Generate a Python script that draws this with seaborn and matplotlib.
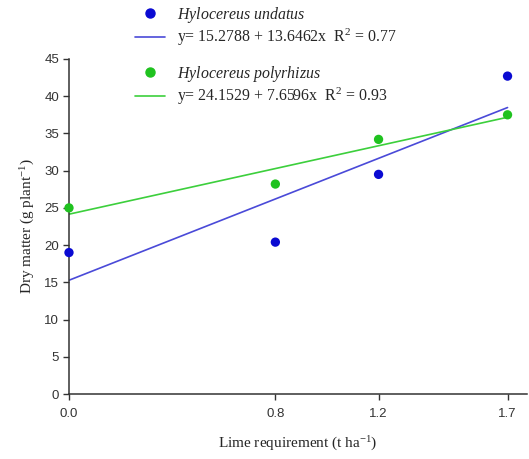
import numpy as np
import pandas as pd
import seaborn as sns
import matplotlib.pyplot as plt
from matplotlib.lines import Line2D

# data
lime = [0.0, 0.8, 1.2, 1.7]
undatus = [19.0, 20.4, 29.5, 42.7]
polyrhizus = [25.0, 28.2, 34.2, 37.5]

# fitted equations shown in the legend
und_a, und_b, und_r2 = 15.2788, 13.6462, 0.77
pol_a, pol_b, pol_r2 = 24.1529, 7.6596, 0.93

sns.set_theme(style='ticks')
plt.rcParams['font.family'] = ['Liberation Serif', 'DejaVu Serif']
plt.rcParams['mathtext.fontset'] = 'custom'
plt.rcParams['mathtext.rm'] = 'Liberation Serif'
plt.rcParams['mathtext.it'] = 'Liberation Serif:italic'

blue_pt, blue_ln = '#0a0ad2', '#4a4ad8'
green_pt, green_ln = '#1fc21f', '#3ccf3c'

df = pd.DataFrame({'lime': lime, 'undatus': undatus, 'polyrhizus': polyrhizus})
df['fit_und'] = und_a + und_b * df['lime']
df['fit_pol'] = pol_a + pol_b * df['lime']

fig = plt.figure(figsize=(5.29, 4.59), dpi=100)
ax = fig.add_axes([0.1304, 0.1416, 0.8656, 0.7299])

sns.lineplot(data=df, x='lime', y='fit_und', color=blue_ln, lw=1.2, ax=ax)
sns.lineplot(data=df, x='lime', y='fit_pol', color=green_ln, lw=1.2, ax=ax)
sns.scatterplot(data=df, x='lime', y='undatus', color=blue_pt, s=45,
                edgecolor='none', clip_on=False, zorder=5, ax=ax)
sns.scatterplot(data=df, x='lime', y='polyrhizus', color=green_pt, s=45,
                edgecolor='none', clip_on=False, zorder=5, ax=ax)

ax.set_xlim(0, 1.775)
ax.set_ylim(0, 45)
ax.set_xticks(lime)
ax.set_xticklabels(['0.0', '0.8', '1.2', '1.7'])
ax.set_yticks(range(0, 46, 5))
for lab in ax.get_xticklabels() + ax.get_yticklabels():
    lab.set_family(['Liberation Sans', 'DejaVu Sans'])
    lab.set_fontsize(9.5)
    lab.set_color('#333333')
ax.tick_params(axis='both', direction='out', length=4, width=1, color='#333333', pad=3)
ax.tick_params(axis='x', pad=6)
sns.despine(ax=ax)
for sp in ['left', 'bottom']:
    ax.spines[sp].set_color('#333333')
    ax.spines[sp].set_linewidth(1.1)

ax.set_xlabel('Lime requirement (t ha$^{-1}$)', fontsize=11, labelpad=11)
ax.set_ylabel('Dry matter (g plant$^{-1}$)', fontsize=11, labelpad=5)

# legends (two blocks)
h1 = [Line2D([], [], ls='none', marker='o', ms=6.5, color=blue_pt),
      Line2D([], [], color=blue_ln, lw=1.2)]
t1 = ['$\\it{Hylocereus\\ undatus}$',
      'y= %.4f + %.4fx  R$^2$ = %.2f' % (und_a, und_b, und_r2)]
h2 = [Line2D([], [], ls='none', marker='o', ms=6.5, color=green_pt),
      Line2D([], [], color=green_ln, lw=1.2)]
t2 = ['$\\it{Hylocereus\\ polyrhizus}$',
      'y= %.4f + %.4fx  R$^2$ = %.2f' % (pol_a, pol_b, pol_r2)]
kw = dict(loc='upper left', frameon=False, fontsize=11.4, handlelength=1.9,
          labelspacing=0.15, handletextpad=0.75, borderaxespad=0, borderpad=0)
leg1 = fig.legend(h1, t1, bbox_to_anchor=(0.255, 0.99), **kw)
leg2 = fig.legend(h2, t2, bbox_to_anchor=(0.255, 0.861), **kw)

fig.savefig('out.png', dpi=100)
